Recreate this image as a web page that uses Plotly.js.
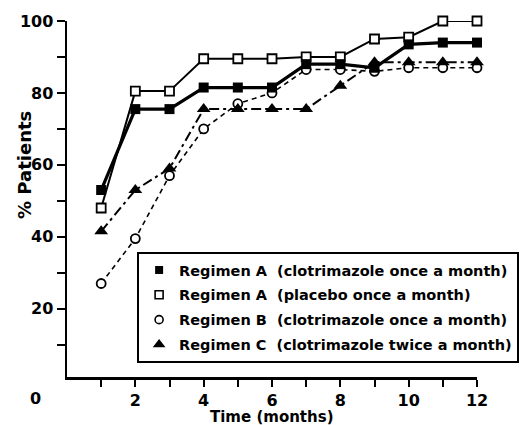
<!DOCTYPE html>
<html>
<head>
<meta charset="utf-8">
<script src="https://cdn.plot.ly/plotly-3.0.1.min.js"></script>
<style>html,body{margin:0;padding:0;background:#fff;}#chart{width:521px;height:425px;}</style>
</head>
<body>
<div id="chart"></div>
<script>
const months = [1,2,3,4,5,6,7,8,9,10,11,12];
const regimenAClot = [53,75.5,75.5,81.5,81.5,81.5,88,88,87,93.5,94,94];
const regimenAPlacebo = [48,80.5,80.5,89.5,89.5,89.5,90,90,95,95.5,100,100];
const regimenB = [27,39.5,57,70,77,80,86.5,86.5,86,87,87,87];
const regimenC = [41.5,53,59,75.5,75.5,75.5,75.5,82,88.5,88.5,88.5,88.5];
const seriesNames = [
  'Regimen A  (clotrimazole once a month)',
  'Regimen A  (placebo once a month)',
  'Regimen B  (clotrimazole once a month)',
  'Regimen C  (clotrimazole twice a month)'
];
const xTickVals = [1,2,3,4,5,6,7,8,9,10,11,12];
const xTickText = ['','2','','4','','6','','8','','10','','12'];
const yTickVals = [10,20,30,40,50,60,70,80,90,100];
const yTickText = ['','20','','40','','60','','80','','100'];

const font = 'DejaVu Sans, sans-serif';
const traces = [
  {x: months, y: regimenB, mode: 'lines+markers', showlegend: false, cliponaxis: false,
   line: {color: '#000', width: 1.6, dash: '5px,4px'},
   marker: {symbol: 'circle', size: 9, color: '#fff', line: {color: '#000', width: 1.8}}},
  {x: months, y: regimenC, mode: 'lines+markers', showlegend: false, cliponaxis: false,
   line: {color: '#000', width: 2, dash: '10px,4px,3px,4px'},
   marker: {symbol: 'triangle-up', size: 12, color: '#000'}},
  {x: months, y: regimenAPlacebo, mode: 'lines+markers', showlegend: false, cliponaxis: false,
   line: {color: '#000', width: 2},
   marker: {symbol: 'square', size: 9, color: '#fff', line: {color: '#000', width: 1.8}}},
  {x: months, y: regimenAClot, mode: 'lines+markers', showlegend: false, cliponaxis: false,
   line: {color: '#000', width: 3.2},
   marker: {symbol: 'square', size: 10, color: '#000'}},
  // legend proxies (markers only)
  {x: [null], y: [null], mode: 'markers', name: seriesNames[0], legendgroup: 'a',
   marker: {symbol: 'square', size: 8, color: '#000'}},
  {x: [null], y: [null], mode: 'markers', name: seriesNames[1], legendgroup: 'b',
   marker: {symbol: 'square', size: 8, color: '#fff', line: {color: '#000', width: 1.6}}},
  {x: [null], y: [null], mode: 'markers', name: seriesNames[2], legendgroup: 'c',
   marker: {symbol: 'circle', size: 8, color: '#fff', line: {color: '#000', width: 1.6}}},
  {x: [null], y: [null], mode: 'markers', name: seriesNames[3], legendgroup: 'd',
   marker: {symbol: 'triangle-up', size: 11, color: '#000'}}
];

const layout = {
  width: 521, height: 425,
  margin: {l: 67, r: 44, t: 21, b: 48, autoexpand: false},
  paper_bgcolor: '#fff', plot_bgcolor: '#fff',
  font: {family: font, color: '#000', size: 15},
  xaxis: {range: [0, 12], showgrid: false, zeroline: false, showline: true,
          linecolor: '#000', linewidth: 2.5, ticks: 'outside', ticklen: 7,
          tickwidth: 2, tickcolor: '#000', tickvals: xTickVals, ticktext: xTickText,
          tickangle: 0, automargin: false,
          tickfont: {family: font, size: 16, weight: 'bold'}, fixedrange: true},
  yaxis: {range: [1, 100], showgrid: false, zeroline: false, showline: true,
          linecolor: '#000', linewidth: 2.5, ticks: 'outside', ticklen: 8,
          tickwidth: 2, tickcolor: '#000', tickvals: yTickVals, ticktext: yTickText,
          automargin: false,
          tickfont: {family: font, size: 16, weight: 'bold'}, fixedrange: true},
  showlegend: true,
  legend: {x: 0.171, y: 0.351, xanchor: 'left', yanchor: 'top',
           bordercolor: '#000', borderwidth: 2, bgcolor: '#fff',
           font: {family: font, size: 14.5, weight: 'bold'},
           traceorder: 'grouped', tracegroupgap: 3, itemwidth: 30},
  annotations: [
    {text: '0', xref: 'paper', yref: 'paper', x: -0.078, y: -0.059,
     showarrow: false, xanchor: 'center', yanchor: 'middle',
     font: {family: font, size: 16, weight: 'bold'}},
    {text: 'Time (months)', xref: 'paper', yref: 'paper', x: 0.5, y: -0.111,
     showarrow: false, xanchor: 'center', yanchor: 'middle',
     font: {family: font, size: 15, weight: 'bold'}},
    {text: '% Patients', xref: 'paper', yref: 'paper', x: -0.102, y: 0.596,
     showarrow: false, xanchor: 'center', yanchor: 'middle', textangle: -90,
     font: {family: font, size: 18, weight: 'bold'}}
  ]
};
Plotly.newPlot('chart', traces, layout, {displayModeBar: false, staticPlot: true});
</script>
</body>
</html>
